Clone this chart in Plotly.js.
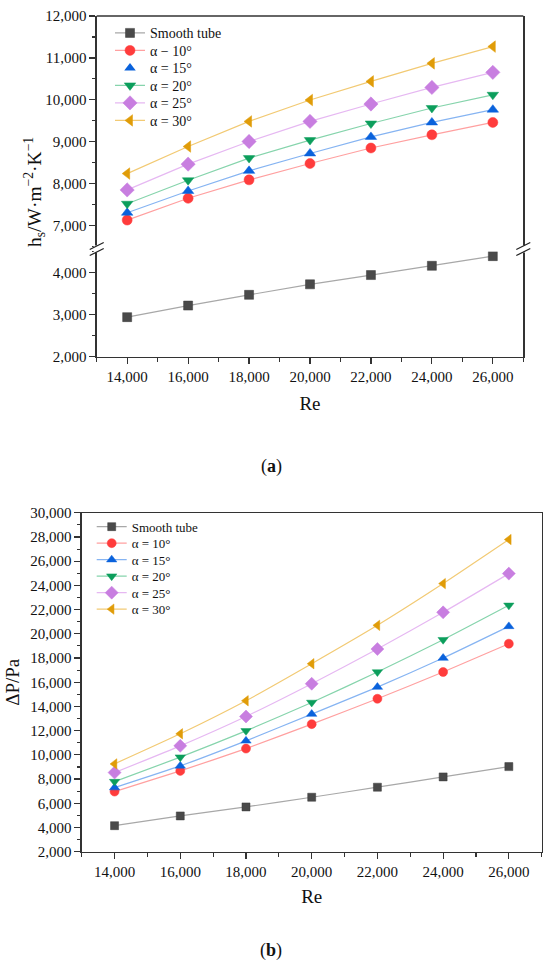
<!DOCTYPE html>
<html>
<head>
<meta charset="utf-8">
<script src="https://cdn.plot.ly/plotly-3.0.1.min.js"></script>
<style>html,body{margin:0;padding:0;background:#fff;}#chart{width:550px;height:968px;}</style>
</head>
<body>
<div id="chart"></div>
<script>
// ---- data ----
const re = [14000, 16000, 18000, 20000, 22000, 24000, 26000];
const seriesNamesA = ['Smooth tube', 'α − 10°', 'α = 15°', 'α = 20°', 'α = 25°', 'α = 30°'];
const seriesNamesB = ['Smooth tube', 'α = 10°', 'α = 15°', 'α = 20°', 'α = 25°', 'α = 30°'];
// (a) heat transfer coefficient hs
const hSmooth = [2940, 3215, 3470, 3720, 3940, 4160, 4390];
const h10 = [7130, 7650, 8090, 8480, 8850, 9165, 9460];
const h15 = [7305, 7825, 8305, 8720, 9115, 9460, 9765];
const h20 = [7520, 8080, 8610, 9040, 9435, 9805, 10120];
const h25 = [7850, 8465, 9005, 9485, 9900, 10295, 10655];
const h30 = [8240, 8885, 9485, 9995, 10440, 10870, 11270];
// (b) pressure drop
const dpSmooth = [4150, 4955, 5700, 6500, 7330, 8180, 9030];
const dp10 = [6965, 8675, 10520, 12540, 14635, 16845, 19185];
const dp15 = [7295, 9090, 11160, 13370, 15600, 18000, 20615];
const dp20 = [7790, 9810, 11985, 14330, 16845, 19515, 22355];
const dp25 = [8535, 10745, 13170, 15875, 18745, 21775, 24975];
const dp30 = [9255, 11740, 14470, 17530, 20700, 24150, 27790];

// ---- styles ----
const W = 550, H = 968;
const px = p => p / W;
const py = p => 1 - p / H;
const FONT = 'Liberation Serif';
const styles = [
  {m: 'square', mc: '#4a4a4a', lc: '#a8a8a8', ml: '#3a3a3a'},
  {m: 'circle', mc: '#ff3c3c', lc: '#ffa0a0', ml: '#ff3c3c'},
  {m: 'triangle-up', mc: '#0a62dc', lc: '#86b4f2', ml: '#0a62dc'},
  {m: 'triangle-down', mc: '#0c9e5c', lc: '#86d4ac', ml: '#0c9e5c'},
  {m: 'diamond', mc: '#c87ee0', lc: '#e6b8f2', ml: '#c87ee0'},
  {m: 'triangle-left', mc: '#e09c08', lc: '#f2ca74', ml: '#e09c08'}
];
const sizesA = [9, 10, 10, 10, 11, 10];
const sizesB = [8, 9, 9, 9, 10, 9];

const dataA = [hSmooth, h10, h15, h20, h25, h30];
const dataB = [dpSmooth, dp10, dp15, dp20, dp25, dp30];

const traces = [];
dataA.forEach((ys, i) => {
  const s = styles[i];
  traces.push({
    x: re, y: ys, type: 'scatter', mode: 'lines+markers',
    name: seriesNamesA[i], legend: 'legend',
    xaxis: 'x', yaxis: i === 0 ? 'y2' : 'y',
    line: {color: s.lc, width: 1.2},
    marker: {symbol: s.m, size: sizesA[i], color: s.mc, line: {color: s.ml, width: 0.5}},
    showlegend: i !== 2, legendrank: i
  });
  if (i === 2) {
    // legend entry for α = 15° in (a) shows only the marker
    traces.push({
      x: [null], y: [null], type: 'scatter', mode: 'markers',
      name: seriesNamesA[i], legend: 'legend', xaxis: 'x', yaxis: 'y',
      marker: {symbol: s.m, size: sizesA[i], color: s.mc},
      hoverinfo: 'skip', legendrank: i
    });
  }
});
dataB.forEach((ys, i) => {
  const s = styles[i];
  traces.push({
    x: re, y: ys, type: 'scatter', mode: 'lines+markers',
    name: seriesNamesB[i], legend: 'legend2',
    xaxis: 'x2', yaxis: 'y3',
    line: {color: s.lc, width: 1.2, shape: 'spline', smoothing: 0.5},
    marker: {symbol: s.m, size: sizesB[i], color: s.mc, line: {color: s.ml, width: 0.5}},
    legendrank: i
  });
});

// ---- geometry (pixel positions of plot areas) ----
const A = {l: 96.7, r: 523.3, top: 16, breakTop: 246.5, breakBot: 251.5, bot: 356.7};
const B = {l: 81.7, r: 541.7, top: 512.8, bot: 851.7};

const axisCommon = {
  showline: true, linecolor: '#333', linewidth: 1.3,
  ticks: 'outside', ticklen: 6, tickwidth: 1.2, tickcolor: '#333',
  showgrid: false, zeroline: false,
  tickfont: {family: FONT, size: 15, color: '#111'},
  tickformat: ','
};

const layout = {
  width: W, height: H,
  margin: {l: 0, r: 0, t: 0, b: 0},
  paper_bgcolor: '#fff', plot_bgcolor: '#fff',
  font: {family: FONT, color: '#111'},
  showlegend: true,
  xaxis: Object.assign({}, axisCommon, {
    domain: [px(A.l), px(A.r)], anchor: 'y2', range: [13000, 27000],
    dtick: 2000, tick0: 14000,
    minor: {dtick: 1000, tick0: 13000, ticks: 'outside', ticklen: 3.5, tickwidth: 1.1, tickcolor: '#333'},
    title: {text: 'Re', font: {family: FONT, size: 19}, standoff: 12}
  }),
  yaxis: Object.assign({}, axisCommon, {
    domain: [py(A.breakTop), py(A.top)], anchor: 'x', range: [6500, 12000],
    dtick: 1000, tick0: 7000, mirror: true,
    minor: {dtick: 500, ticks: 'outside', ticklen: 3.5, tickwidth: 1.1, tickcolor: '#333'}
  }),
  yaxis2: Object.assign({}, axisCommon, {
    domain: [py(A.bot), py(A.breakBot)], anchor: 'x', range: [2000, 4500],
    dtick: 1000, tick0: 2000, mirror: true,
    minor: {dtick: 500, ticks: 'outside', ticklen: 3.5, tickwidth: 1.1, tickcolor: '#333'}
  }),
  xaxis2: Object.assign({}, axisCommon, {
    domain: [px(B.l), px(B.r)], anchor: 'y3', range: [13000, 27000],
    dtick: 2000, tick0: 14000, mirror: true,
    minor: {dtick: 1000, tick0: 13000, ticks: 'outside', ticklen: 3.5, tickwidth: 1.1, tickcolor: '#333'},
    title: {text: 'Re', font: {family: FONT, size: 19}, standoff: 10}
  }),
  yaxis3: Object.assign({}, axisCommon, {
    domain: [py(B.bot), py(B.top)], anchor: 'x2', range: [2000, 30000],
    dtick: 2000, tick0: 2000, mirror: true,
    minor: {dtick: 1000, ticks: 'outside', ticklen: 3.5, tickwidth: 1.1, tickcolor: '#333'},
    title: {text: 'ΔP/Pa', font: {family: FONT, size: 19}, standoff: 5}
  }),
  legend: {
    x: px(110), y: py(17.3), xanchor: 'left', yanchor: 'top',
    bgcolor: 'rgba(0,0,0,0)', borderwidth: 0,
    font: {family: FONT, size: 14, color: '#111'},
    traceorder: 'normal'
  },
  legend2: {
    x: px(91.7), y: py(511.7), xanchor: 'left', yanchor: 'top',
    bgcolor: 'rgba(0,0,0,0)', borderwidth: 0,
    font: {family: FONT, size: 13, color: '#111'},
    traceorder: 'normal'
  },
  shapes: [
    // top frame line of chart (a)
    {type: 'line', xref: 'paper', yref: 'paper', x0: px(A.l), x1: px(A.r), y0: py(A.top), y1: py(A.top),
     line: {color: '#333', width: 1.3}},
  ],
  annotations: [
    {xref: 'paper', yref: 'paper', x: px(34), y: py(192), textangle: -90,
     text: 'h<sub>s</sub>/W·m<sup>−2</sup>·K<sup>−1</sup>', showarrow: false,
     font: {family: FONT, size: 19.5, color: '#111'}, xanchor: 'center', yanchor: 'middle'},
    {xref: 'paper', yref: 'paper', x: px(271), y: py(466), text: '(<b>a</b>)', showarrow: false,
     font: {family: FONT, size: 18, color: '#111'}, xanchor: 'center', yanchor: 'middle'},
    {xref: 'paper', yref: 'paper', x: px(271), y: py(950), text: '(<b>b</b>)', showarrow: false,
     font: {family: FONT, size: 18, color: '#111'}, xanchor: 'center', yanchor: 'middle'}
  ]
};

// axis break marks (//) on both sides of chart (a)
[A.l, A.r].forEach(xc => {
  layout.shapes.push({type: 'rect', xref: 'paper', yref: 'paper',
    x0: px(xc - 3), x1: px(xc + 3), y0: py(A.breakBot + 1), y1: py(A.breakTop - 1),
    fillcolor: '#fff', line: {width: 0}});
  [A.breakTop - 0.5, A.breakBot + 0.5].forEach(yc => {
    layout.shapes.push({type: 'line', xref: 'paper', yref: 'paper',
      x0: px(xc - 7), x1: px(xc + 7), y0: py(yc + 3.5), y1: py(yc - 3.5),
      line: {color: '#222', width: 1.3}});
  });
});

// tighten legend row spacing to match the reference
function tightenLegend(gd, cls, spacing) {
  const leg = gd.querySelector('g.infolayer g.' + cls);
  if (!leg) return;
  const items = leg.querySelectorAll('g.traces');
  if (!items.length) return;
  const parse = el => {
    const m = /translate\(\s*([-\d.e]+)[ ,]+([-\d.e]+)/.exec(el.getAttribute('transform') || '');
    return m ? [parseFloat(m[1]), parseFloat(m[2])] : [0, 0];
  };
  const [x0, y0] = parse(items[0]);
  items.forEach((el, i) => {
    const [xi] = parse(el);
    el.setAttribute('transform', 'translate(' + xi + ',' + (y0 + i * spacing) + ')');
  });
}

Plotly.newPlot('chart', traces, layout, {staticPlot: true, displayModeBar: false}).then(gd => {
  tightenLegend(gd, 'legend', 17.5);
  tightenLegend(gd, 'legend2', 16.5);
});
</script>
</body>
</html>
